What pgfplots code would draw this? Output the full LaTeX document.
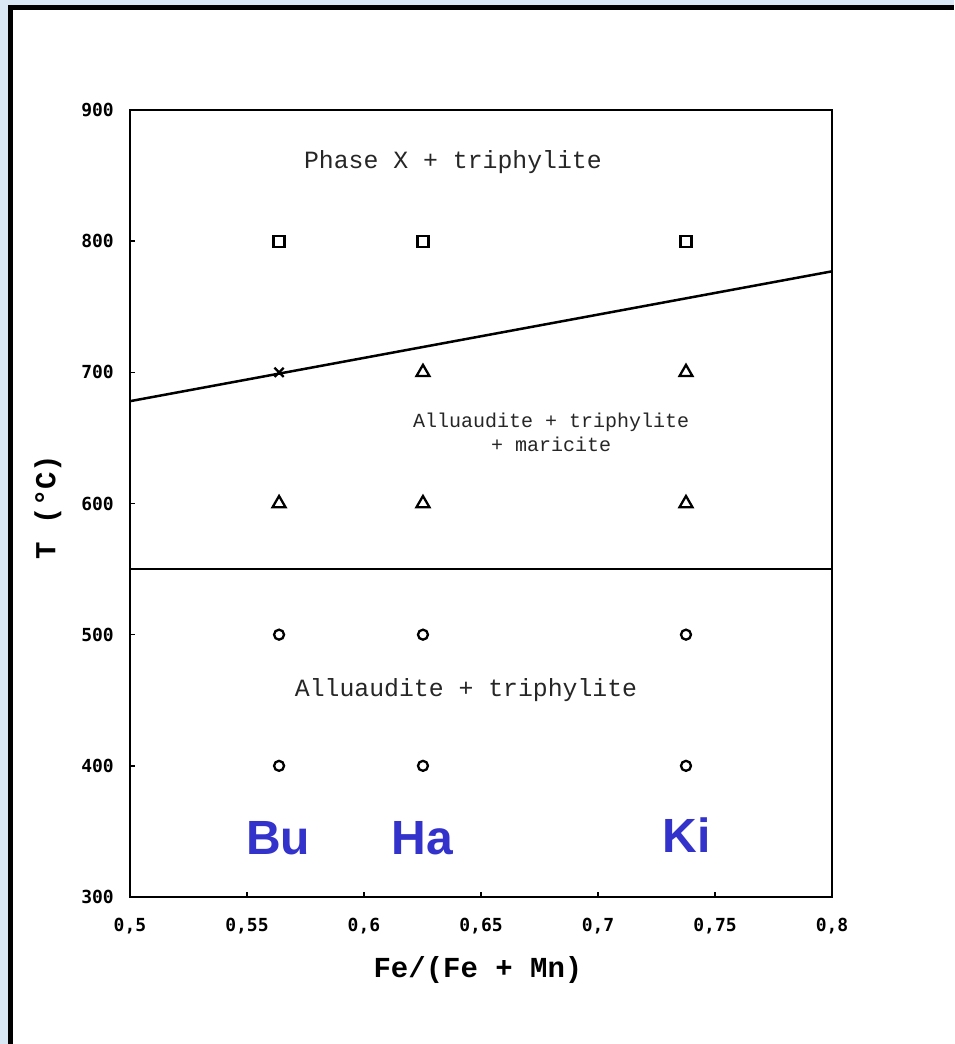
\documentclass[border=0pt]{standalone}
\usepackage{pgfplots}
\pgfplotsset{compat=1.18}
\usepackage{fontspec}
\setmainfont{Liberation Mono}
\newfontfamily\cour{Liberation Mono}
\newfontfamily\tickf{DejaVu Sans Mono}
\newfontfamily\arialf{Liberation Sans}
\definecolor{bgblue}{RGB}{218,231,245}
\definecolor{labblue}{RGB}{51,51,204}
\begin{document}
\begin{tikzpicture}
\fill[bgblue] (0,0) rectangle (954pt,1044pt);
\fill[black] (8pt,0) rectangle (954pt,1039pt);
\fill[white] (13pt,0) rectangle (954pt,1034pt);
\path[use as bounding box] (0,0) rectangle (954pt,1044pt);
\begin{axis}[
  at={(130pt,147pt)}, anchor=south west,
  scale only axis, width=702pt, height=787pt,
  xmin=0.5, xmax=0.8, ymin=300, ymax=900,
  xtick={0.5,0.55,0.6,0.65,0.7,0.75,0.8},
  xticklabels={{0,5},{0,55},{0,6},{0,65},{0,7},{0,75},{0,8}},
  ytick={300,400,500,600,700,800,900},
  yticklabels={300,400,500,600,700,800,900},
  xtick pos=left, ytick pos=left, tick align=inside,
  major tick length=5pt,
  axis line style={line width=2.5pt},
  every tick/.style={line width=1.5pt, black},
  tick label style={font=\tickf\bfseries\fontsize{18}{20}\selectfont, inner sep=0pt},
  xticklabel shift=21pt, yticklabel shift=16pt,
  xlabel={Fe/(Fe + Mn)}, ylabel={T (°C)},
  label style={font=\cour\bfseries\fontsize{29}{32}\selectfont},
  xlabel style={at={(axis description cs:0.4957,-0.0928)}, anchor=center, inner sep=0pt},
  ylabel style={at={(axis description cs:-0.1168,0.4956)}, anchor=center, inner sep=0pt},
  clip=false,
]
\addplot[black, line width=2.5pt] coordinates {(0.5,678) (0.8,777)};
\addplot[black, line width=2.5pt] coordinates {(0.5,550) (0.8,550)};
\addplot[only marks, mark=square, mark size=5.5pt, mark options={line width=2.3pt, black}] coordinates {(0.5637,800) (0.6252,800) (0.7376,800)};
\addplot[only marks, mark=x, mark size=6.5pt, mark options={line width=2.3pt, black}] coordinates {(0.5637,700)};
\addplot[only marks, mark=triangle, mark size=7.5pt, mark options={line width=2.3pt, black}] coordinates {(0.6252,700) (0.7376,700) (0.5637,600) (0.6252,600) (0.7376,600)};
\addplot[only marks, mark=o, mark size=5pt, mark options={line width=2.3pt, black}] coordinates {(0.5637,500) (0.6252,500) (0.7376,500) (0.5637,400) (0.6252,400) (0.7376,400)};
\node[font=\cour\fontsize{24.8}{26}\selectfont, text=black!85] at (axis cs:0.638,860) {Phase X + triphylite};
\node[font=\cour\fontsize{20}{24}\selectfont, text=black!85, align=center] at (axis cs:0.680,654) {Alluaudite + triphylite\\+ maricite};
\node[font=\cour\fontsize{24.8}{26}\selectfont, text=black!85] at (axis cs:0.6436,458) {Alluaudite + triphylite};
\node[font=\arialf\bfseries\fontsize{48}{50}\selectfont, text=labblue] at (axis cs:0.5633,345) {Bu};
\node[font=\arialf\bfseries\fontsize{48}{50}\selectfont, text=labblue] at (axis cs:0.6248,345) {Ha};
\node[font=\arialf\bfseries\fontsize{48}{50}\selectfont, text=labblue] at (axis cs:0.7380,347) {Ki};
\end{axis}
\end{tikzpicture}
\end{document}
